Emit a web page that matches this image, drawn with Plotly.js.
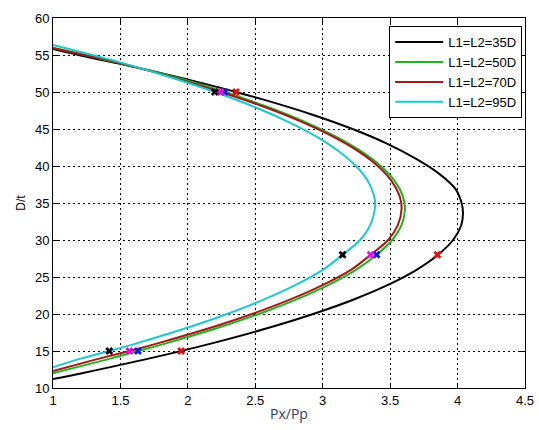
<!DOCTYPE html>
<html><head><meta charset="utf-8">
<script src="https://cdn.plot.ly/plotly-3.0.1.min.js"></script>
<style>html,body{margin:0;padding:0;background:#fff}#chart{width:539px;height:430px}</style>
</head><body><div id="chart"></div>
<script>
// Series names
const seriesNames = ["L1=L2=35D", "L1=L2=50D", "L1=L2=70D", "L1=L2=95D"];
// Curve data: D/t (y) and Px/Pp (x)
const y35 = [11.2, 12, 14, 16, 18, 20, 22, 24, 26, 28, 30, 32, 33.5, 35, 37, 39, 41, 43, 45, 47, 49, 50, 51, 53, 55, 55.8];
const x35 = [1.0, 1.215, 1.717, 2.17, 2.574, 2.929, 3.235, 3.492, 3.699, 3.855, 3.967, 4.027, 4.04, 4.03, 3.98, 3.86, 3.69, 3.48, 3.221, 2.913, 2.555, 2.357, 2.149, 1.693, 1.189, 1.0];
const y50 = [12.0, 14, 15, 16, 18, 20, 22, 24, 26, 28, 30, 32, 34.2, 36, 38, 40, 42, 44, 46, 48, 50, 52, 54, 56.0];
const x50 = [1.0, 1.43, 1.63, 1.831, 2.201, 2.527, 2.811, 3.051, 3.249, 3.40, 3.515, 3.584, 3.61, 3.593, 3.533, 3.429, 3.283, 3.094, 2.862, 2.587, 2.275, 1.909, 1.47, 1.0];
const y70 = [12.3, 14, 15, 16, 18, 20, 22, 24, 26, 28, 30, 32, 34.3, 36, 38, 40, 42, 44, 46, 48, 50, 52, 54, 55.9];
const x70 = [1.0, 1.349, 1.566, 1.769, 2.144, 2.476, 2.765, 3.01, 3.212, 3.355, 3.485, 3.557, 3.585, 3.569, 3.51, 3.408, 3.262, 3.073, 2.84, 2.564, 2.243, 1.882, 1.475, 1.0];
const y95 = [12.8, 14, 15, 16, 18, 20, 22, 24, 26, 28, 30, 32, 34.7, 36, 38, 40, 42, 44, 46, 48, 50, 52, 54, 56.35];
const x95 = [1.0, 1.212, 1.417, 1.613, 1.972, 2.291, 2.57, 2.807, 3.004, 3.147, 3.277, 3.352, 3.389, 3.38, 3.334, 3.246, 3.118, 2.95, 2.74, 2.49, 2.20, 1.869, 1.497, 1.0];
// Marked points (D/t = 15, 28, 50)
const markY = [15, 28, 50];
const mark35 = [1.95, 3.85, 2.357];
const mark50 = [1.63, 3.40, 2.275];
const mark70 = [1.566, 3.355, 2.243];
const mark95 = [1.417, 3.147, 2.20];
// Tick values
const xTicks = [1, 1.5, 2, 2.5, 3, 3.5, 4, 4.5];
const xTickText = ["1", "1.5", "2", "2.5", "3", "3.5", "4", "4.5"];
const yTicks = [10, 15, 20, 25, 30, 35, 40, 45, 50, 55, 60];

const lineColors = ["#000000", "#1db41d", "#a51818", "#1cc9d2"];
const markColors = ["#e01010", "#1020d0", "#e010e0", "#000000"];
const xs = [x35, x50, x70, x95], ys = [y35, y50, y70, y95], marks = [mark35, mark50, mark70, mark95];

const traces = [];
for (let i = 0; i < 4; i++) {
  traces.push({x: xs[i], y: ys[i], mode: "lines", name: seriesNames[i],
    line: {color: lineColors[i], width: 2, shape: "spline", smoothing: 1}});
}
for (let i = 0; i < 4; i++) {
  traces.push({x: marks[i], y: markY, mode: "markers", showlegend: false,
    marker: {symbol: "x", size: 7, color: markColors[i], line: {width: 0}}});
}
const axisFont = {family: "Liberation Sans, Arial, sans-serif", size: 13, color: "#000"};
const layout = {
  width: 539, height: 430,
  margin: {l: 53, r: 14, t: 18, b: 42},
  paper_bgcolor: "#fff", plot_bgcolor: "#fff",
  showlegend: true,
  legend: {x: 0.994, y: 0.978, xanchor: "right", yanchor: "top",
    bgcolor: "#fff", bordercolor: "#000", borderwidth: 1,
    itemwidth: 48,
    font: {family: "Liberation Sans, Arial, sans-serif", size: 13, color: "#000"},
    tracegroupgap: 0},
  xaxis: {range: [1, 4.5], tickvals: xTicks, ticktext: xTickText,
    showline: true, linecolor: "#000", linewidth: 1, mirror: "ticks",
    ticks: "inside", ticklen: 5, tickcolor: "#000",
    showgrid: true, gridcolor: "#000", gridwidth: 1, griddash: "2px,3px",
    zeroline: false, tickfont: axisFont,
    title: {text: "Px/Pp", font: {family: "Open Sans, Noto Sans, sans-serif", size: 14, color: "#2b3a67"}, standoff: 2}},
  yaxis: {range: [10, 60], tickvals: yTicks,
    showline: true, linecolor: "#000", linewidth: 1, mirror: "ticks",
    ticks: "inside", ticklen: 5, tickcolor: "#000",
    showgrid: true, gridcolor: "#000", gridwidth: 1, griddash: "2px,3px",
    zeroline: false, tickfont: axisFont,
    title: {text: "D/t", font: {family: "Liberation Sans, Arial, sans-serif", size: 12, color: "#000"}, standoff: 6}}
};
Plotly.newPlot("chart", traces, layout, {displayModeBar: false, staticPlot: true});
</script></body></html>
